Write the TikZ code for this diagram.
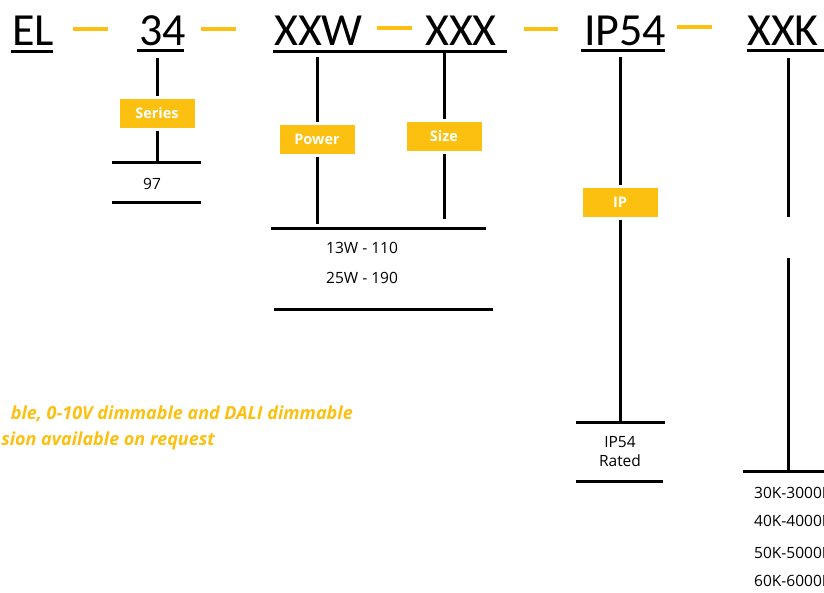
\documentclass[tikz,border=0pt]{standalone}
\usepackage{fontspec}
\setmainfont{Carlito}
\newfontfamily\labelfont{Open Sans}
\usetikzlibrary{positioning}
\definecolor{amber}{HTML}{FCC010}

\begin{document}
\begin{tikzpicture}[
  x=1pt, y=-1pt,
  code/.style={font=\fontsize{46}{46}\selectfont, inner sep=0pt, anchor=base west},
  tag/.style={fill=amber, text=white, font=\labelfont\bfseries\fontsize{14.5}{14.5}\selectfont,
              minimum width=75pt, minimum height=29pt, inner sep=0pt, outer sep=3pt},
  value/.style={font=\labelfont\fontsize{15.5}{19}\selectfont, inner sep=0pt},
  rule/.style={line width=3pt},
  joiner/.style={amber, line width=4pt},
  note/.style={font=\labelfont\bfseries\itshape\fontsize{18}{18}\selectfont, text=amber,
               inner sep=0pt, anchor=base east}
]
\useasboundingbox (0,0) rectangle (824,592);
\clip (0,0) rectangle (824,592);

%% Code parts
\node[code] (el)   at (12,45)  {EL};
\node[code] (ser)  at (139,45) {34};
\node[code] (pw)   at (274,45) {XXW};
\node[code] (sz)   at (425,45) {XXX};
\node[code] (ip)   at (584,45) {IP54};
\node[code] (cct)  at (747,45) {XXK};

%% Underlines and joiners
\draw[rule] (11,51) -- (53,51);
\draw[rule] (137,50) -- (184,50);
\draw[rule] (273,51) -- (507,51);
\draw[rule] (581,50) -- (665,50);
\draw[rule] (747,50) -- (824,50);
\draw[joiner] (73,29) -- (108,29);
\draw[joiner] (201,29) -- (236,29);
\draw[joiner] (377,28) -- (412,28);
\draw[joiner] (524,29) -- (558,29);
\draw[joiner] (677,27) -- (712,27);

%% Tags
\node[tag] (series) at (157,113) {Series};
\node[tag] (power)  at (317,139) {Power};
\node[tag] (size)   at (444,136) {Size};
\node[tag] (iptag)  at (620,202) {IP};

%% Connectors
\coordinate (s0) at (157,58);  \coordinate (s1) at (157,161);
\coordinate (p0) at (317,57);  \coordinate (p1) at (317,224);
\coordinate (z0) at (444,52);  \coordinate (z1) at (444,219);
\coordinate (i0) at (620,57);  \coordinate (i1) at (620,422);
\draw[rule] (s0) -- (series) -- (s1);
\draw[rule] (p0) -- (power) -- (p1);
\draw[rule] (z0) -- (size) -- (z1);
\draw[rule] (i0) -- (iptag) -- (i1);
\draw[rule] (788,58) -- (788,217);
\draw[rule] (788,258) -- (788,471);

%% Value bars
\draw[rule] (112,162) -- (201,162);
\draw[rule] (112,202) -- (201,202);
\draw[rule] (271,228) -- (486,228);
\draw[rule] (274,309) -- (493,309);
\draw[rule] (576,422) -- (665,422);
\draw[rule] (576,481) -- (663,481);
\draw[rule] (743,471) -- (824,471);

%% Values
\node[value] (v97)  at (152,184) {97};
\node[value] (w13)  at (362,248) {13W - 110};
\node[value] (w25)  at (362,278) {25W - 190};
\node[value, align=center] (ipr) at (620,452) {IP54\\Rated};
\node[value, anchor=west] (k30) at (754,493) {30K-3000K};
\node[value, anchor=west] (k40) at (754,521) {40K-4000K};
\node[value, anchor=west] (k50) at (754,553) {50K-5000K};
\node[value, anchor=west] (k60) at (754,581) {60K-6000K};

%% Note
\node[note] (dim) at (353,419) {ble, 0-10V dimmable and DALI dimmable};
\node[note] (req) at (215,445) {sion available on request};

\end{tikzpicture}
\end{document}
